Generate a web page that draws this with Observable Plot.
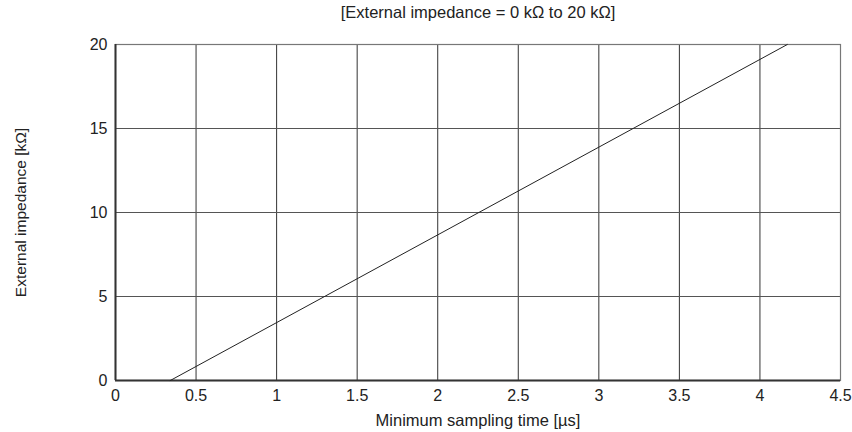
<!DOCTYPE html>
<html><head><meta charset="utf-8">
<script src="https://cdn.jsdelivr.net/npm/d3@7"></script>
<script src="https://cdn.jsdelivr.net/npm/@observablehq/plot@0.6"></script>
<style>body{margin:0;background:#fff;} svg{font-family:"Liberation Sans",Arial,sans-serif;}</style>
</head><body><div id="chart"></div>
<script>
const samplingTime = [0.34, 4.17];
const impedance = [0, 20];
const xTicks = [0, 0.5, 1, 1.5, 2, 2.5, 3, 3.5, 4, 4.5];
const yTicks = [0, 5, 10, 15, 20];
const title = "[External impedance = 0 kΩ to 20 kΩ]";
const xLabel = "Minimum sampling time [µs]";
const yLabel = "External impedance [kΩ]";

const data = samplingTime.map((t, i) => ({t, z: impedance[i]}));

const chart = Plot.plot({
  width: 852, height: 432,
  marginLeft: 115, marginRight: 12, marginTop: 44, marginBottom: 52,
  style: {fontSize: "16px", fontFamily: "Liberation Sans, Arial, sans-serif", color: "#222"},
  x: {domain: [0, 4.5], ticks: xTicks, tickFormat: d => String(d)},
  y: {domain: [0, 20], ticks: yTicks},
  marks: [
    Plot.gridX(xTicks, {stroke: "#333", strokeOpacity: 1, strokeWidth: 1}),
    Plot.gridY(yTicks, {stroke: "#555", strokeOpacity: 1, strokeWidth: 1}),
    Plot.frame({stroke: "#777", strokeWidth: 1.2}),
    Plot.ruleX([0], {stroke: "#333", strokeWidth: 2}),
    Plot.ruleY([0], {stroke: "#333", strokeWidth: 2}),
    Plot.axisX(xTicks, {tickSize: 0, tickPadding: 9, label: null, fontSize: 16, tickFormat: d => String(d)}),
    Plot.axisY(yTicks, {tickSize: 0, tickPadding: 8, label: null, fontSize: 16}),
    Plot.line(data, {x: "t", y: "z", stroke: "#222", strokeWidth: 1}),
    Plot.text([title], {frameAnchor: "top", dy: -38, fontSize: 16.5, fill: "#222"}),
    Plot.text([xLabel], {frameAnchor: "bottom", dy: 45, fontSize: 16.5, fill: "#222"}),
    Plot.text([yLabel], {frameAnchor: "left", dx: -94.5, rotate: -90, textAnchor: "middle", fontSize: 15.5, fill: "#222"})
  ]
});
document.getElementById("chart").append(chart);
</script></body></html>
